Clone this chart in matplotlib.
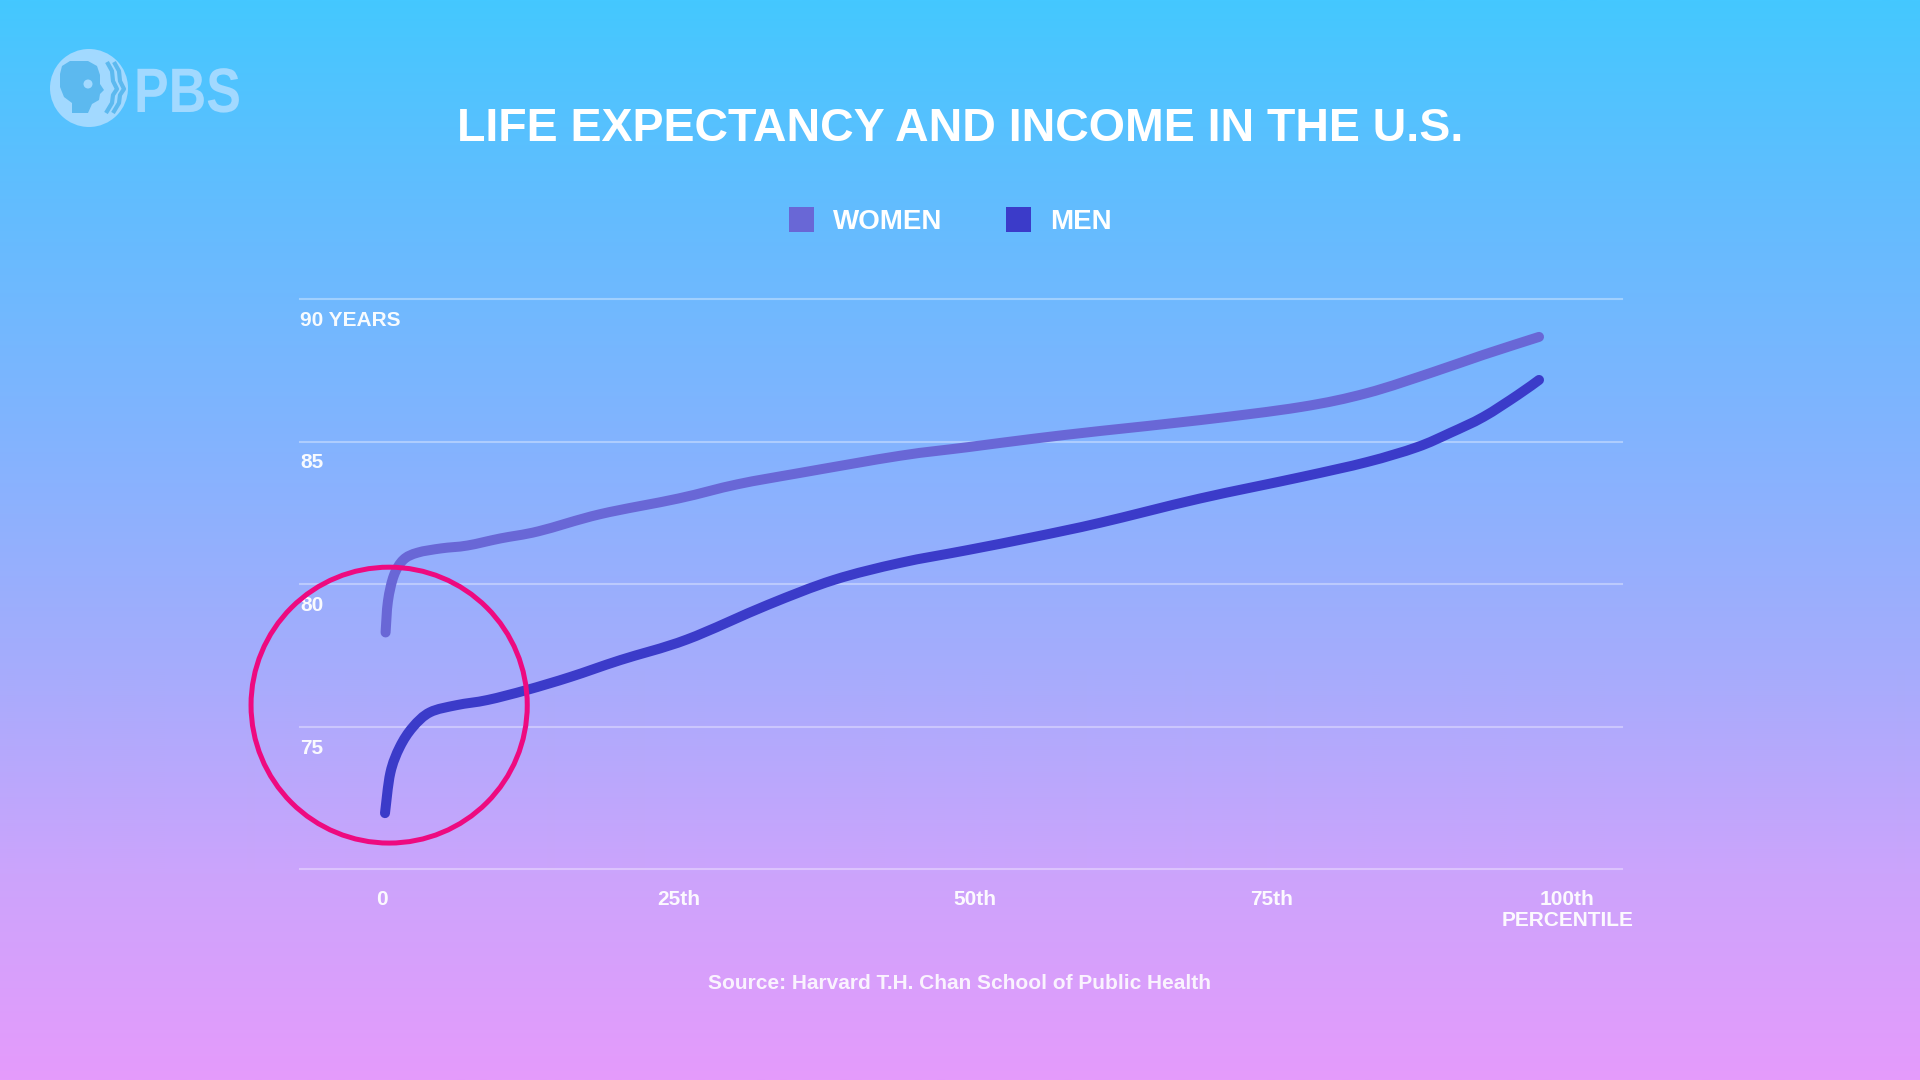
import numpy as np
import matplotlib
matplotlib.use("Agg")
import matplotlib.pyplot as plt
from matplotlib.patches import Circle, Ellipse, Rectangle, Polygon, PathPatch
from matplotlib.path import Path
from matplotlib.textpath import TextPath
from matplotlib.font_manager import FontProperties
from matplotlib.transforms import Affine2D

plt.rcParams['font.family'] = ['Liberation Sans', 'DejaVu Sans']
plt.rcParams['font.weight'] = 'bold'

# data (percentile of income -> life expectancy in years)
women_pct = [0.3, 0.5, 1.0, 1.8, 3.0, 5.0, 7.2, 10, 13.2, 18.4, 25, 30, 35.3,
             43.7, 49.4, 55, 60.6, 69, 77.5, 83.1, 88.7, 92.9, 97.6]
women_years = [78.3, 79.4, 80.3, 80.85, 81.1, 81.25, 81.35, 81.6, 81.85, 82.45,
               83.0, 83.5, 83.9, 84.5, 84.8, 85.1, 85.37, 85.75, 86.21, 86.7,
               87.44, 88.04, 88.67]
men_pct = [0.25, 0.7, 1.5, 2.6, 4.05, 6.3, 8.9, 12.2, 15.9, 20.1, 25.7, 32.5,
           38.1, 43.7, 49.4, 55, 60.6, 69, 77.5, 83.1, 87.3, 90.1, 92.9, 95.8, 97.6]
men_years = [71.96, 73.37, 74.28, 74.98, 75.5, 75.75, 75.93, 76.28, 76.74,
             77.33, 78.05, 79.26, 80.14, 80.74, 81.19, 81.65, 82.15, 83.0, 83.75,
             84.28, 84.8, 85.3, 85.86, 86.63, 87.16]

series_names = ['WOMEN', 'MEN']
series_colors = ['#6967d6', '#3b3bc9']

x_ticks = [0, 25, 50, 75, 100]
x_tick_labels = ['0', '25th', '50th', '75th', '100th']
y_ticks = [70, 75, 80, 85, 90]
y_tick_labels = ['', '75', '80', '85', '90 YEARS']

title = 'LIFE EXPECTANCY AND INCOME IN THE U.S.'
source = 'Source: Harvard T.H. Chan School of Public Health'

# highlighted region (the pink ring around the bottom percentiles)
ring_center = (0.6, 75.75)
ring_size = (23.3, 9.68)


def smooth_path(xs, ys):
    # catmull-rom through the points, as cubic bezier segments
    p = np.column_stack([xs, ys]).astype(float)
    p = np.vstack([p[0], p, p[-1]])
    verts = [p[1]]
    codes = [Path.MOVETO]
    for i in range(1, len(p) - 2):
        c1 = p[i] + (p[i + 1] - p[i - 1]) / 6
        c2 = p[i + 1] - (p[i + 2] - p[i]) / 6
        verts += [c1, c2, p[i + 1]]
        codes += [Path.CURVE4] * 3
    return Path(verts, codes)


W, H = 1920, 1080
fig = plt.figure(figsize=(W / 100, H / 100), dpi=100)

# background gradient, drawn in pixel coordinates
bg = fig.add_axes([0, 0, 1, 1], zorder=0)
bg.set_xlim(0, W)
bg.set_ylim(H, 0)
bg.axis('off')
stops = [0.0, 0.2, 0.39, 0.62, 0.81, 1.0]
stop_cols = np.array([(68, 200, 255), (100, 188, 254), (128, 180, 255),
                      (166, 172, 252), (204, 164, 252), (229, 155, 251)]) / 255
t = np.linspace(0, 1, 540)
grad = np.stack([np.interp(t, stops, stop_cols[:, k]) for k in range(3)], axis=1)
bg.imshow(grad[:, None, :], extent=(0, W, H, 0), aspect='auto', interpolation='bilinear')

# PBS logo
logo_col = '#a2d9ff'
head_col = '#5cb9ef'
bg.add_patch(Circle((89, 88), 39, color=logo_col, lw=0))
head = [(62, 66), (70, 61), (88, 61), (97, 66), (100, 75), (100, 84), (104, 90),
        (100, 94), (99, 100), (92, 104), (88, 113), (72, 113), (72, 103),
        (64, 97), (60, 87), (60, 74)]
bg.add_patch(Polygon(head, closed=True, color=head_col, lw=0))
bg.add_patch(Circle((88, 84), 4.5, color=logo_col, lw=0))
prof = np.array([(101, 62), (106, 71), (107, 81), (111, 89), (107, 95), (106, 103), (100, 113)])
for dx in (6, 13):
    bg.plot(prof[:, 0] + dx, prof[:, 1], color=head_col, lw=3, solid_capstyle='butt')
fp = FontProperties(family='Liberation Sans', weight='bold')
tp = TextPath((0, 0), 'PBS', size=1, prop=fp)
tp = Affine2D().scale(52, -62.8).translate(134, 112).transform_path(tp)
bg.add_patch(PathPatch(tp, color=logo_col, lw=0))

# title
bg.text(960, 141, title, ha='center', va='baseline', color='white',
        fontsize=33.5, fontweight='bold')

# legend
legend_x = [789, 1006]
for x0, name, col in zip(legend_x, series_names, series_colors):
    bg.add_patch(Rectangle((x0, 207), 25, 25, color=col, lw=0))
    bg.text(x0 + 44, 229, name, ha='left', va='baseline', color='white',
            fontsize=20, fontweight='bold')

# source
bg.text(960, 989, source, ha='center', va='baseline', color='white', alpha=0.88,
        fontsize=15, fontweight='bold')

# chart area
ax = fig.add_axes([300 / W, (H - 869) / H, 1322 / W, 570 / H], zorder=1)
ax.patch.set_alpha(0)
ax.set_xlim(-6.92, 104.6)
ax.set_ylim(70, 90)
for s in ax.spines.values():
    s.set_visible(False)
ax.set_xticks([])
ax.set_yticks([])

for v, lab in zip(y_ticks, y_tick_labels):
    ax.axhline(v, color='white', alpha=0.35, lw=1.5, clip_on=False, zorder=1)
    if lab:
        ax.annotate(lab, xy=(0, v), xycoords=('axes fraction', 'data'),
                    xytext=(0, -27), textcoords='offset pixels', ha='left',
                    va='baseline', color='white', alpha=0.95, fontsize=15,
                    fontweight='bold')

for v, lab in zip(x_ticks, x_tick_labels):
    ax.annotate(lab, xy=(v, 0), xycoords=('data', 'axes fraction'),
                xytext=(0, -36), textcoords='offset pixels', ha='center',
                va='baseline', color='white', alpha=0.95, fontsize=15,
                fontweight='bold')
ax.annotate('PERCENTILE', xy=(x_ticks[-1], 0), xycoords=('data', 'axes fraction'),
            xytext=(0, -57), textcoords='offset pixels', ha='center',
            va='baseline', color='white', alpha=0.95, fontsize=15, fontweight='bold')

for xs, ys, col in [(women_pct, women_years, series_colors[0]),
                    (men_pct, men_years, series_colors[1])]:
    ax.add_patch(PathPatch(smooth_path(xs, ys), fill=False, edgecolor=col,
                           lw=7.2, capstyle='round', joinstyle='round',
                           zorder=3, clip_on=False))

ax.add_patch(Ellipse(ring_center, ring_size[0], ring_size[1], fill=False,
                     edgecolor='#ee0a80', lw=3.6, zorder=4, clip_on=False))

fig.savefig('out.png', dpi=100)
